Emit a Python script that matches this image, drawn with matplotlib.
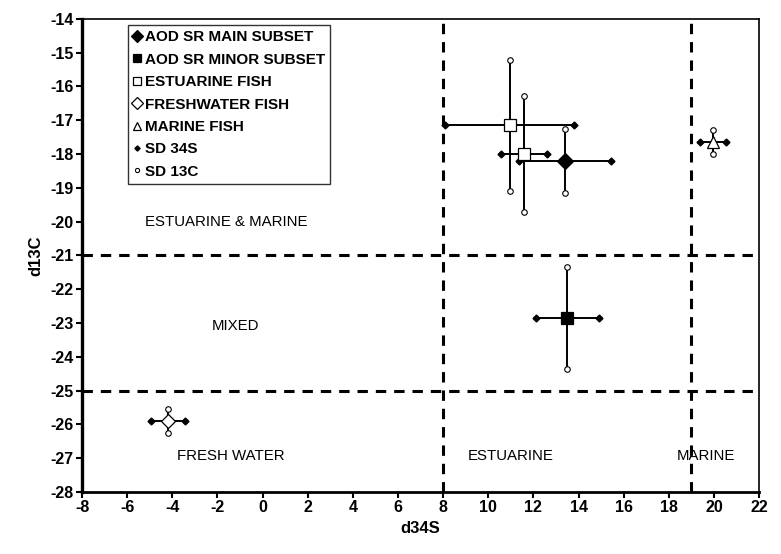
import matplotlib
matplotlib.use("Agg")
import matplotlib.pyplot as plt
import numpy as np

plt.rcParams['font.family'] = ['Liberation Sans', 'DejaVu Sans']
plt.rcParams['font.weight'] = 'bold'
plt.rcParams['axes.unicode_minus'] = False

# group means and standard deviations (d34S, d13C)
main_x = [13.4]
main_y = [-18.2]
main_sdx = [2.05]
main_sdy = [0.94]

minor_x = [13.5]
minor_y = [-22.85]
minor_sdx = [1.4]
minor_sdy = [1.52]

est_x = [10.95, 11.6]
est_y = [-17.15, -18.0]
est_sdx = [2.85, 1.02]
est_sdy = [1.93, 1.72]

fresh_x = [-4.2]
fresh_y = [-25.9]
fresh_sdx = [0.76]
fresh_sdy = [0.35]

mar_x = [19.95]
mar_y = [-17.65]
mar_sdx = [0.58]
mar_sdy = [0.36]

# zone boundaries
bound_x = [8, 19]
bound_y = [-21, -25]

zone_labels = ["ESTUARINE & MARINE", "MIXED", "FRESH WATER", "ESTUARINE", "MARINE"]
zone_x = [-1.6, -1.2, -1.4, 11.0, 19.65]
zone_y = [-20.0, -23.1, -26.95, -26.95, -26.95]

groups = [
    (main_x, main_y, main_sdx, main_sdy, 'D', 'black', 8, "AOD SR MAIN SUBSET"),
    (minor_x, minor_y, minor_sdx, minor_sdy, 's', 'black', 8.5, "AOD SR MINOR SUBSET"),
    (est_x, est_y, est_sdx, est_sdy, 's', 'none', 8.5, "ESTUARINE FISH"),
    (fresh_x, fresh_y, fresh_sdx, fresh_sdy, 'D', 'none', 7.5, "FRESHWATER FISH"),
    (mar_x, mar_y, mar_sdx, mar_sdy, '^', 'none', 8, "MARINE FISH"),
]

fig = plt.figure(figsize=(7.81, 5.54), dpi=100)
ax = fig.add_axes([0.105, 0.112, 0.867, 0.854])

for xv in bound_x:
    ax.axvline(xv, color='black', lw=2.2, ls=(0, (3.4, 2.6)), zorder=1)
for yv in bound_y:
    ax.axhline(yv, color='black', lw=2.2, ls=(0, (3.4, 2.6)), zorder=1)

sd34_x, sd34_y, sd13_x, sd13_y = [], [], [], []
handles = []
for gx, gy, sdx, sdy, mk, fc, ms, lab in groups:
    ax.errorbar(gx, gy, xerr=sdx, yerr=sdy, fmt='none', ecolor='black',
                elinewidth=1.4, capsize=0, zorder=2)
    h, = ax.plot(gx, gy, ls='none', marker=mk, ms=ms, mfc=fc if fc != 'none' else 'white',
                 mec='black', mew=0.9, zorder=4, label=lab)
    handles.append(h)
    for x, y, a, b in zip(gx, gy, sdx, sdy):
        sd34_x += [x - a, x + a]
        sd34_y += [y, y]
        sd13_x += [x, x]
        sd13_y += [y - b, y + b]

h1, = ax.plot(sd34_x, sd34_y, ls='none', marker='D', ms=3.5, mfc='black', mec='black',
              zorder=3, label="SD 34S")
h2, = ax.plot(sd13_x, sd13_y, ls='none', marker='o', ms=4, mfc='white', mec='black',
              mew=0.8, zorder=3, label="SD 13C")
handles += [h1, h2]

for t, x, y in zip(zone_labels, zone_x, zone_y):
    ax.text(x, y, t, ha='center', va='center', fontsize=10.8, fontweight='normal')

ax.set_xlim(-8, 22)
ax.set_ylim(-28, -14)
ax.set_xticks(np.arange(-8, 23, 2))
ax.set_yticks(np.arange(-28, -13, 1))
ax.tick_params(direction='out', length=4, width=1.5, labelsize=11.5, pad=2)
for lab in ax.get_xticklabels() + ax.get_yticklabels():
    lab.set_fontweight('bold')
ax.spines['left'].set_linewidth(2.4)
ax.spines['bottom'].set_linewidth(2.0)
ax.spines['top'].set_linewidth(1.2)
ax.spines['right'].set_linewidth(1.2)

ax.set_xlabel("d34S", fontsize=12, fontweight='bold', labelpad=4)
ax.set_ylabel("d13C", fontsize=12, fontweight='bold', labelpad=5)

leg = ax.legend(handles=handles, loc='upper left', bbox_to_anchor=(0.068, 0.987),
                fontsize=11, frameon=True, fancybox=False, edgecolor='black',
                handlelength=0.5, handletextpad=0.25, labelspacing=0.55,
                borderpad=0.35, borderaxespad=0, markerscale=0.75)
leg.get_frame().set_linewidth(1.0)
for t in leg.get_texts():
    t.set_fontweight('bold')

fig.savefig("out.png", dpi=100)
plt.close(fig)
